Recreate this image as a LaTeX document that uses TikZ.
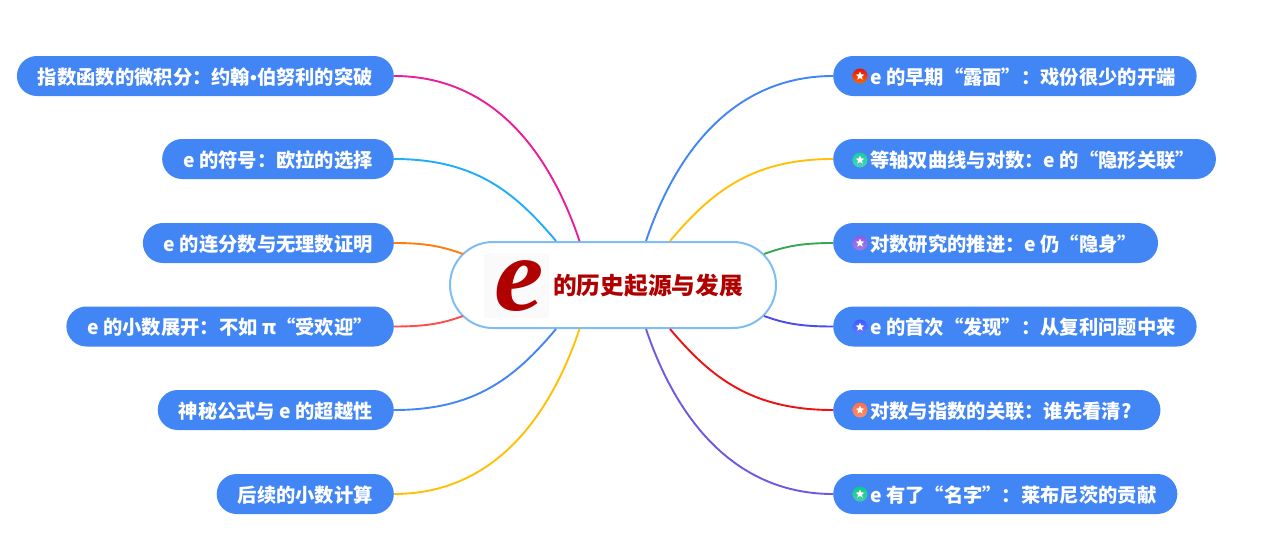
\documentclass[tikz,border=0pt]{standalone}
\usepackage{fontspec}
\setmainfont{Noto Sans CJK SC}
\newfontfamily\bigefont[FakeStretch=1.05]{Liberation Serif}
\newfontfamily\dotfont{Liberation Sans}
\usepackage{tikz}
\usetikzlibrary{shapes.geometric,positioning}
\definecolor{pillblue}{HTML}{4285F4}
\definecolor{hubline}{HTML}{7FBDF7}
\definecolor{hubred}{HTML}{B00000}
\definecolor{eback}{HTML}{FAFAFA}
\definecolor{ballred}{HTML}{E3120B}
\definecolor{ballteal}{HTML}{1CCBA0}
\definecolor{ballviolet}{HTML}{8A5CE6}
\definecolor{ballblue}{HTML}{3D5CFF}
\definecolor{ballorange}{HTML}{FF6F47}
\definecolor{ballgreen}{HTML}{10C88C}
\tikzset{
  topic/.style={fill=pillblue, text=white, rounded corners=20pt, minimum height=40pt,
                inner xsep=21pt, inner ysep=0pt, text height=16pt, text depth=0pt,
                font=\fontsize{19.3}{21}\selectfont\bfseries},
  lefttopic/.style={topic, anchor=east},
  righttopic/.style={topic, anchor=west},
  ball/.style={circle, minimum size=15pt, inner sep=0pt, top color=#1, bottom color=#1!80!white},
  starmark/.style={star, star points=5, star point ratio=2.2, minimum size=9pt, inner sep=0pt, fill=white},
  link/.style={line width=1.9pt}
}

\begin{document}
\begin{tikzpicture}[x=1pt,y=-1pt]
  \useasboundingbox (0,0) rectangle (1271,554);

  % central topic
  \node[draw=hubline, line width=2pt, fill=white, rounded corners=43pt, minimum width=326pt, minimum height=86pt] (hub) at (613,285) {};
  \node[fill=eback, minimum size=65pt, inner sep=0pt] (ebox) at (516.5,285) {};
  \node[text=hubred, font=\fontsize{106}{106}\selectfont\bigefont\bfseries\itshape, inner sep=0pt] (ebig) at (519.5,286) {e};
  \node[text=hubred, anchor=west, inner sep=0pt, font=\fontsize{23.7}{26}\selectfont\bfseries] (title) at (553,285.5) {的历史起源与发展};

  % left topics
  \node[lefttopic] (l1) at (394,76) {指数函数的微积分：约翰{\dotfont •}伯努利的突破};
  \node[lefttopic] (l2) at (394,159) {e 的符号：欧拉的选择};
  \node[lefttopic] (l3) at (394,243) {e 的连分数与无理数证明};
  \node[lefttopic] (l4) at (394,326.5) {e 的小数展开：不如 π“受欢迎”};
  \node[lefttopic] (l5) at (394,410) {神秘公式与 e 的超越性};
  \node[lefttopic] (l6) at (394,494) {后续的小数计算};

  % right topics
  \node[righttopic] (r1) at (833,76) {\hspace{16pt}e 的早期“露面”：戏份很少的开端};
  \node[righttopic] (r2) at (833,159) {\hspace{16pt}等轴双曲线与对数：e 的“隐形关联”};
  \node[righttopic] (r3) at (833,243) {\hspace{16pt}对数研究的推进：e 仍“隐身”};
  \node[righttopic] (r4) at (833,326.5) {\hspace{16pt}e 的首次“发现”：从复利问题中来};
  \node[righttopic] (r5) at (833,410) {\hspace{16pt}对数与指数的关联：谁先看清?\kern8pt};
  \node[righttopic] (r6) at (833,494) {\hspace{16pt}e 有了“名字”：莱布尼茨的贡献};

  % icons
  \node[ball=ballred, bottom color=orange!80!red] (b1) at (860,76) {};
  \node[ball=ballteal] (b2) at (860,160) {};
  \node[ball=ballviolet] (b3) at (860,243) {};
  \node[ball=ballblue] (b4) at (860,327) {};
  \node[ball=ballorange] (b5) at (860,410) {};
  \node[ball=ballgreen] (b6) at (860,494) {};
  \node[starmark] (s1) at (b1) {};
  \node[starmark] (s2) at (b2) {};
  \node[starmark] (s3) at (b3) {};
  \node[starmark] (s4) at (b4) {};
  \node[starmark] (s5) at (b5) {};
  \node[starmark] (s6) at (b6) {};

  % ends on the border of the central topic
  \coordinate (hl1) at (579.5,241);
  \coordinate (hl2) at (556,241);
  \coordinate (hl3) at (463,254);
  \coordinate (hl4) at (463,316);
  \coordinate (hl5) at (556,329);
  \coordinate (hl6) at (579.5,329);
  \coordinate (hr1) at (646,241);
  \coordinate (hr2) at (670,241);
  \coordinate (hr3) at (764,254);
  \coordinate (hr4) at (764,316);
  \coordinate (hr5) at (670,329);
  \coordinate (hr6) at (646,329);

  % connectors
  \draw[link, color={rgb,255:red,233;green,30;blue,155}] (l1.east) .. controls +(95,0) and +(-32,-95) .. (hl1);
  \draw[link, color={rgb,255:red,30;green,174;blue,248}] (l2.east) .. controls +(80,0) and +(-42,-50) .. (hl2);
  \draw[link, color={rgb,255:red,255;green,127;blue,14}] (l3.east) .. controls +(30,0) and +(-22,-8) .. (hl3);
  \draw[link, color={rgb,255:red,255;green,77;blue,77}] (l4.east) .. controls +(30,0) and +(-22,8) .. (hl4);
  \draw[link, color=pillblue] (l5.east) .. controls +(80,0) and +(-42,50) .. (hl5);
  \draw[link, color={rgb,255:red,255;green,192;blue,7}] (l6.east) .. controls +(95,0) and +(-32,95) .. (hl6);
  \draw[link, color=pillblue] (r1.west) .. controls +(-95,0) and +(32,-95) .. (hr1);
  \draw[link, color={rgb,255:red,255;green,192;blue,7}] (r2.west) .. controls +(-80,0) and +(42,-50) .. (hr2);
  \draw[link, color={rgb,255:red,52;green,168;blue,83}] (r3.west) .. controls +(-30,0) and +(22,-8) .. (hr3);
  \draw[link, color={rgb,255:red,74;green,74;blue,240}] (r4.west) .. controls +(-30,0) and +(22,8) .. (hr4);
  \draw[link, color={rgb,255:red,238;green,17;blue,17}] (r5.west) .. controls +(-80,0) and +(42,50) .. (hr5);
  \draw[link, color={rgb,255:red,112;green,88;blue,224}] (r6.west) .. controls +(-95,0) and +(32,95) .. (hr6);
\end{tikzpicture}
\end{document}
